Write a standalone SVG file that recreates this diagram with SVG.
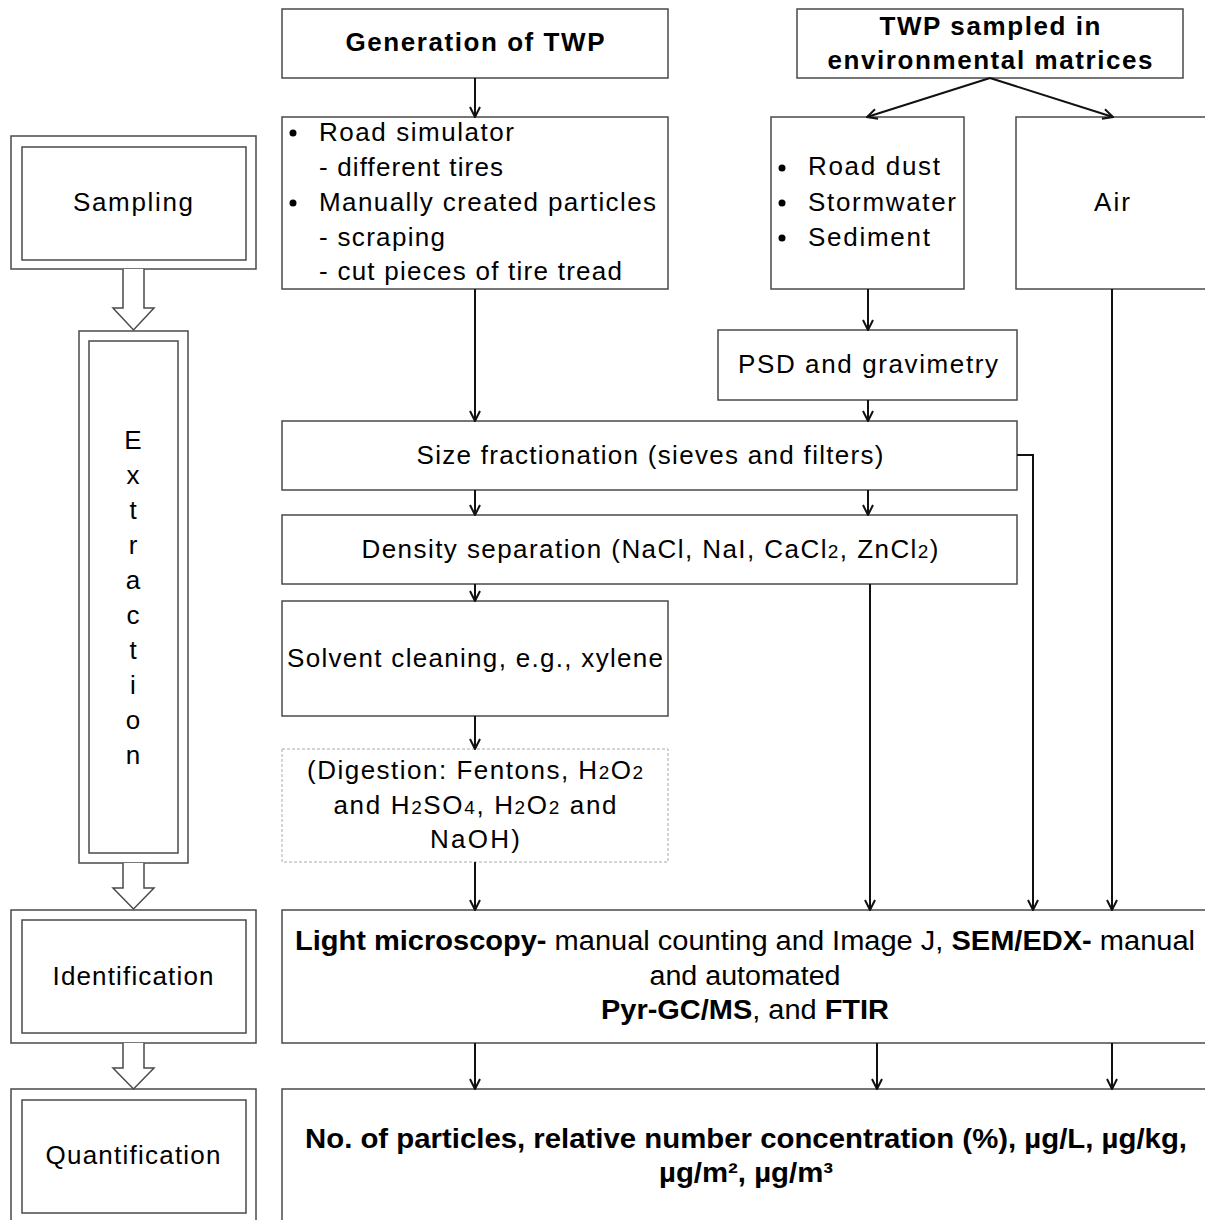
<svg xmlns="http://www.w3.org/2000/svg" width="1205" height="1220" viewBox="0 0 1205 1220">
<defs>
<style>
.box{fill:#fff;stroke:#4a4a4a;stroke-width:1.5}
.dash{fill:#fff;stroke:#aaa;stroke-width:1;stroke-dasharray:3 2}
.hollow{fill:#fff;stroke:#4a4a4a;stroke-width:1.5;stroke-linejoin:miter}
.ln{fill:none;stroke:#111;stroke-width:2}
text{font-family:"Liberation Sans",Arial,sans-serif;font-size:26px;fill:#000}
.c{text-anchor:middle}
.b{font-weight:bold}
.n{font-size:27px}
.sub{font-size:19px}
</style>
<marker id="ah" viewBox="0 0 12 12" refX="11" refY="6" markerWidth="12" markerHeight="12" markerUnits="userSpaceOnUse" orient="auto">
<path d="M1,1 L11,6 L1,11" fill="none" stroke="#111" stroke-width="2"/>
</marker>
</defs>
<rect width="1205" height="1220" fill="#fff"/>

<g id="stage-sampling">
<rect class="box" x="11" y="136" width="245" height="133"/>
<rect class="box" x="22" y="147" width="224" height="113"/>
<text class="c" x="133" y="211" textLength="120">Sampling</text>
</g>
<g id="stage-extraction">
<rect class="box" x="79" y="331" width="109" height="532"/>
<rect class="box" x="89" y="341" width="89" height="512"/>
<text class="c" x="133" y="449">E</text>
<text class="c" x="133" y="484">x</text>
<text class="c" x="133" y="519">t</text>
<text class="c" x="133" y="554">r</text>
<text class="c" x="133" y="589">a</text>
<text class="c" x="133" y="624">c</text>
<text class="c" x="133" y="659">t</text>
<text class="c" x="133" y="694">i</text>
<text class="c" x="133" y="729">o</text>
<text class="c" x="133" y="764">n</text>
</g>
<g id="stage-identification">
<rect class="box" x="11" y="910" width="245" height="133"/>
<rect class="box" x="22" y="920" width="224" height="113"/>
<text class="c" x="133" y="985" textLength="161">Identification</text>
</g>
<g id="stage-quantification">
<rect class="box" x="11" y="1089" width="245" height="150"/>
<rect class="box" x="22" y="1100" width="224" height="113"/>
<text class="c" x="133" y="1164" textLength="175">Quantification</text>
</g>

<g id="generation">
<rect class="box" x="282" y="9" width="386" height="69"/>
<text class="c b" x="475" y="51" textLength="259">Generation of TWP</text>
</g>
<g id="twp-sampled">
<rect class="box" x="797" y="9" width="386" height="69"/>
<text class="c b" x="990" y="35" textLength="221">TWP sampled in</text>
<text class="c b" x="990" y="69" textLength="325">environmental matrices</text>
</g>
<g id="road-simulator">
<rect class="box" x="282" y="117" width="386" height="172"/>
<circle cx="293" cy="133" r="3.5"/>
<circle cx="293" cy="203" r="3.5"/>
<text x="319" y="141" textLength="195">Road simulator</text>
<text x="319" y="176" textLength="184">- different tires</text>
<text x="319" y="211" textLength="337">Manually created particles</text>
<text x="319" y="246" textLength="126">- scraping</text>
<text x="319" y="280" textLength="303">- cut pieces of tire tread</text>
</g>
<g id="road-dust">
<rect class="box" x="771" y="117" width="193" height="172"/>
<circle cx="782" cy="168" r="3.5"/>
<circle cx="782" cy="203" r="3.5"/>
<circle cx="782" cy="238" r="3.5"/>
<text x="808" y="175" textLength="132">Road dust</text>
<text x="808" y="211" textLength="148">Stormwater</text>
<text x="808" y="246" textLength="122">Sediment</text>
</g>
<g id="air">
<rect class="box" x="1016" y="117" width="210" height="172"/>
<text class="c" x="1112" y="211" textLength="36">Air</text>
</g>
<g id="psd">
<rect class="box" x="718" y="330" width="299" height="70"/>
<text class="c" x="868" y="373" textLength="260">PSD and gravimetry</text>
</g>
<g id="size-fractionation">
<rect class="box" x="282" y="421" width="735" height="69"/>
<text class="c" x="650" y="464" textLength="467">Size fractionation (sieves and filters)</text>
</g>
<g id="density">
<rect class="box" x="282" y="515" width="735" height="69"/>
<text class="c" x="650" y="558" textLength="577">Density separation (NaCl, NaI, CaCl<tspan class="sub">2</tspan>, ZnCl<tspan class="sub">2</tspan>)</text>
</g>
<g id="solvent">
<rect class="box" x="282" y="601" width="386" height="115"/>
<text class="c" x="475" y="667" textLength="376">Solvent cleaning, e.g., xylene</text>
</g>
<g id="digestion">
<rect class="dash" x="282" y="749" width="386" height="113"/>
<text class="c" x="475" y="779" textLength="336">(Digestion: Fentons, H<tspan class="sub">2</tspan>O<tspan class="sub">2</tspan></text>
<text class="c" x="475" y="814" textLength="283">and H<tspan class="sub">2</tspan>SO<tspan class="sub">4</tspan>, H<tspan class="sub">2</tspan>O<tspan class="sub">2</tspan> and</text>
<text class="c" x="475" y="848" textLength="90">NaOH)</text>
</g>
<g id="identification">
<rect class="box" x="282" y="910" width="940" height="133"/>
<text class="c n" x="745" y="950" textLength="900" lengthAdjust="spacingAndGlyphs"><tspan class="b">Light microscopy-</tspan> manual counting and Image J, <tspan class="b">SEM/EDX-</tspan> manual</text>
<text class="c n" x="745" y="985" textLength="191" lengthAdjust="spacingAndGlyphs">and automated</text>
<text class="c n" x="745" y="1019" textLength="288" lengthAdjust="spacingAndGlyphs"><tspan class="b">Pyr-GC/MS</tspan>, and <tspan class="b">FTIR</tspan></text>
</g>
<g id="quantification">
<rect class="box" x="282" y="1089" width="940" height="150"/>
<text class="c b n" x="746" y="1148" textLength="882" lengthAdjust="spacingAndGlyphs">No. of particles, relative number concentration (%), µg/L,  µg/kg,</text>
<text class="c b n" x="746" y="1182" textLength="174" lengthAdjust="spacingAndGlyphs">µg/m², µg/m³</text>
</g>

<g id="connectors">
<path class="hollow" d="M123,269 V308 H113 L133.5,330 L154,308 H144 V269"/>
<path class="hollow" d="M123,863 V888 H113 L133.5,909 L154,888 H144 V863"/>
<path class="hollow" d="M123,1043 V1068 H113 L133.5,1089 L154,1068 H144 V1043"/>

<line class="ln" x1="475" y1="78" x2="475" y2="117" marker-end="url(#ah)"/>
<line class="ln" x1="990" y1="78" x2="867" y2="117" marker-end="url(#ah)"/>
<line class="ln" x1="990" y1="78" x2="1113" y2="117" marker-end="url(#ah)"/>
<line class="ln" x1="475" y1="289" x2="475" y2="421" marker-end="url(#ah)"/>
<line class="ln" x1="868" y1="289" x2="868" y2="330" marker-end="url(#ah)"/>
<line class="ln" x1="868" y1="400" x2="868" y2="421" marker-end="url(#ah)"/>
<line class="ln" x1="475" y1="490" x2="475" y2="515" marker-end="url(#ah)"/>
<line class="ln" x1="868" y1="490" x2="868" y2="515" marker-end="url(#ah)"/>
<line class="ln" x1="475" y1="584" x2="475" y2="601" marker-end="url(#ah)"/>
<line class="ln" x1="475" y1="716" x2="475" y2="749" marker-end="url(#ah)"/>
<line class="ln" x1="475" y1="862" x2="475" y2="910" marker-end="url(#ah)"/>
<line class="ln" x1="870" y1="584" x2="870" y2="910" marker-end="url(#ah)"/>
<polyline class="ln" points="1017,455 1033,455 1033,910" marker-end="url(#ah)"/>
<line class="ln" x1="1112" y1="289" x2="1112" y2="910" marker-end="url(#ah)"/>
<line class="ln" x1="475" y1="1043" x2="475" y2="1089" marker-end="url(#ah)"/>
<line class="ln" x1="877" y1="1043" x2="877" y2="1089" marker-end="url(#ah)"/>
<line class="ln" x1="1112" y1="1043" x2="1112" y2="1089" marker-end="url(#ah)"/>
</g>
</svg>
